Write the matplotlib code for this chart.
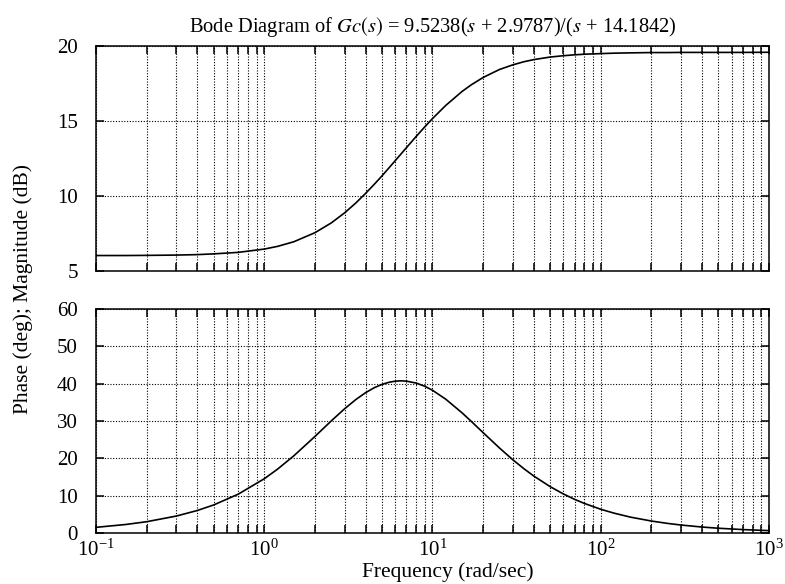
import numpy as np
from matplotlib import pyplot as plt, ticker

plt.rcParams.update({"font.family": "Liberation Serif",
                     "mathtext.fontset": "stix",
                     "font.size": 14,
                     "axes.linewidth": 1.1,
                     "xtick.direction": "in",
                     "ytick.direction": "in"})

# values
freq = [0.1, 0.15, 0.2, 0.3, 0.4, 0.5, 0.7, 1, 1.2, 1.5, 2, 2.5, 3, 3.5, 4,
        4.5, 5, 5.5, 6, 6.5, 7, 8, 9, 10, 12, 15, 17, 20, 25, 30, 35, 40, 50,
        60, 70, 80, 100, 120, 150, 200, 250, 300, 400, 500, 700, 1000]
mag_db = [6.03, 6.03, 6.04, 6.06, 6.09, 6.14, 6.24, 6.46, 6.64, 6.95, 7.55,
          8.20, 8.87, 9.53, 10.17, 10.77, 11.33, 11.86, 12.35, 12.80, 13.22,
          13.97, 14.61, 15.16, 16.04, 16.97, 17.41, 17.90, 18.43, 18.74, 18.95,
          19.09, 19.26, 19.35, 19.41, 19.45, 19.49, 19.52, 19.54, 19.56, 19.56,
          19.57, 19.57, 19.57, 19.57, 19.58]
phase_deg = [1.52, 2.28, 3.03, 4.54, 6.03, 7.51, 10.40, 14.53, 17.11, 20.69,
             25.85, 30.01, 33.26, 35.74, 37.58, 38.90, 39.79, 40.36, 40.67,
             40.76, 40.68, 40.16, 39.30, 38.23, 35.83, 32.17, 29.90, 26.88,
             22.78, 19.63, 17.20, 15.26, 12.43, 10.46, 9.01, 7.92, 6.36, 5.32,
             4.26, 3.21, 2.57, 2.14, 1.60, 1.28, 0.92, 0.64]

mag_ticks = [5, 10, 15, 20]
phase_ticks = [0, 10, 20, 30, 40, 50, 60]

fig = plt.figure(figsize=(7.85, 5.84), dpi=100)
ax_mag = fig.add_axes([0.1223, 0.5360, 0.8573, 0.3853])
ax_ph = fig.add_axes([0.1223, 0.0873, 0.8573, 0.3836])

ax_mag.plot(freq, mag_db, color='k', lw=1.2)
ax_ph.plot(freq, phase_deg, color='k', lw=1.2)

for ax, yt in ((ax_mag, mag_ticks), (ax_ph, phase_ticks)):
    ax.set_xscale('log')
    ax.set_xlim(0.1, 1000)
    ax.set_ylim(yt[0], yt[-1])
    ax.set_yticks(yt)
    ax.xaxis.set_major_locator(ticker.LogLocator(base=10, numticks=10))
    ax.xaxis.set_minor_locator(ticker.LogLocator(base=10, subs=np.arange(2, 10), numticks=10))
    ax.xaxis.set_minor_formatter(ticker.NullFormatter())
    ax.grid(True, which='both', axis='x', color='k', ls=(0, (1, 1.5)), lw=0.8)
    ax.grid(True, which='major', axis='y', color='k', ls=(0, (1, 1.5)), lw=0.8)
    ax.tick_params(which='both', top=True, right=True, color='k', width=1.1)
    ax.tick_params(which='major', length=6)
    ax.tick_params(which='minor', length=6)
    ax.tick_params(axis='y', pad=13, labelsize=15)
    ax.tick_params(axis='x', pad=5, labelsize=15)

ax_mag.xaxis.set_major_formatter(ticker.NullFormatter())

ax_mag.set_title(r'Bode Diagram of $Gc(s)$ = 9.5238($s$ + 2.9787)/($s$ + 14.1842)',
                 fontsize=14.8, pad=10)
ax_ph.set_xlabel('Frequency (rad/sec)', fontsize=15.5)
ax_ph.xaxis.set_label_coords(0.523, -0.13)
fig.text(0.029, 0.505, 'Phase (deg); Magnitude (dB)', rotation=90,
         ha='center', va='center', fontsize=15.5)

fig.savefig('out.png', dpi=100)
